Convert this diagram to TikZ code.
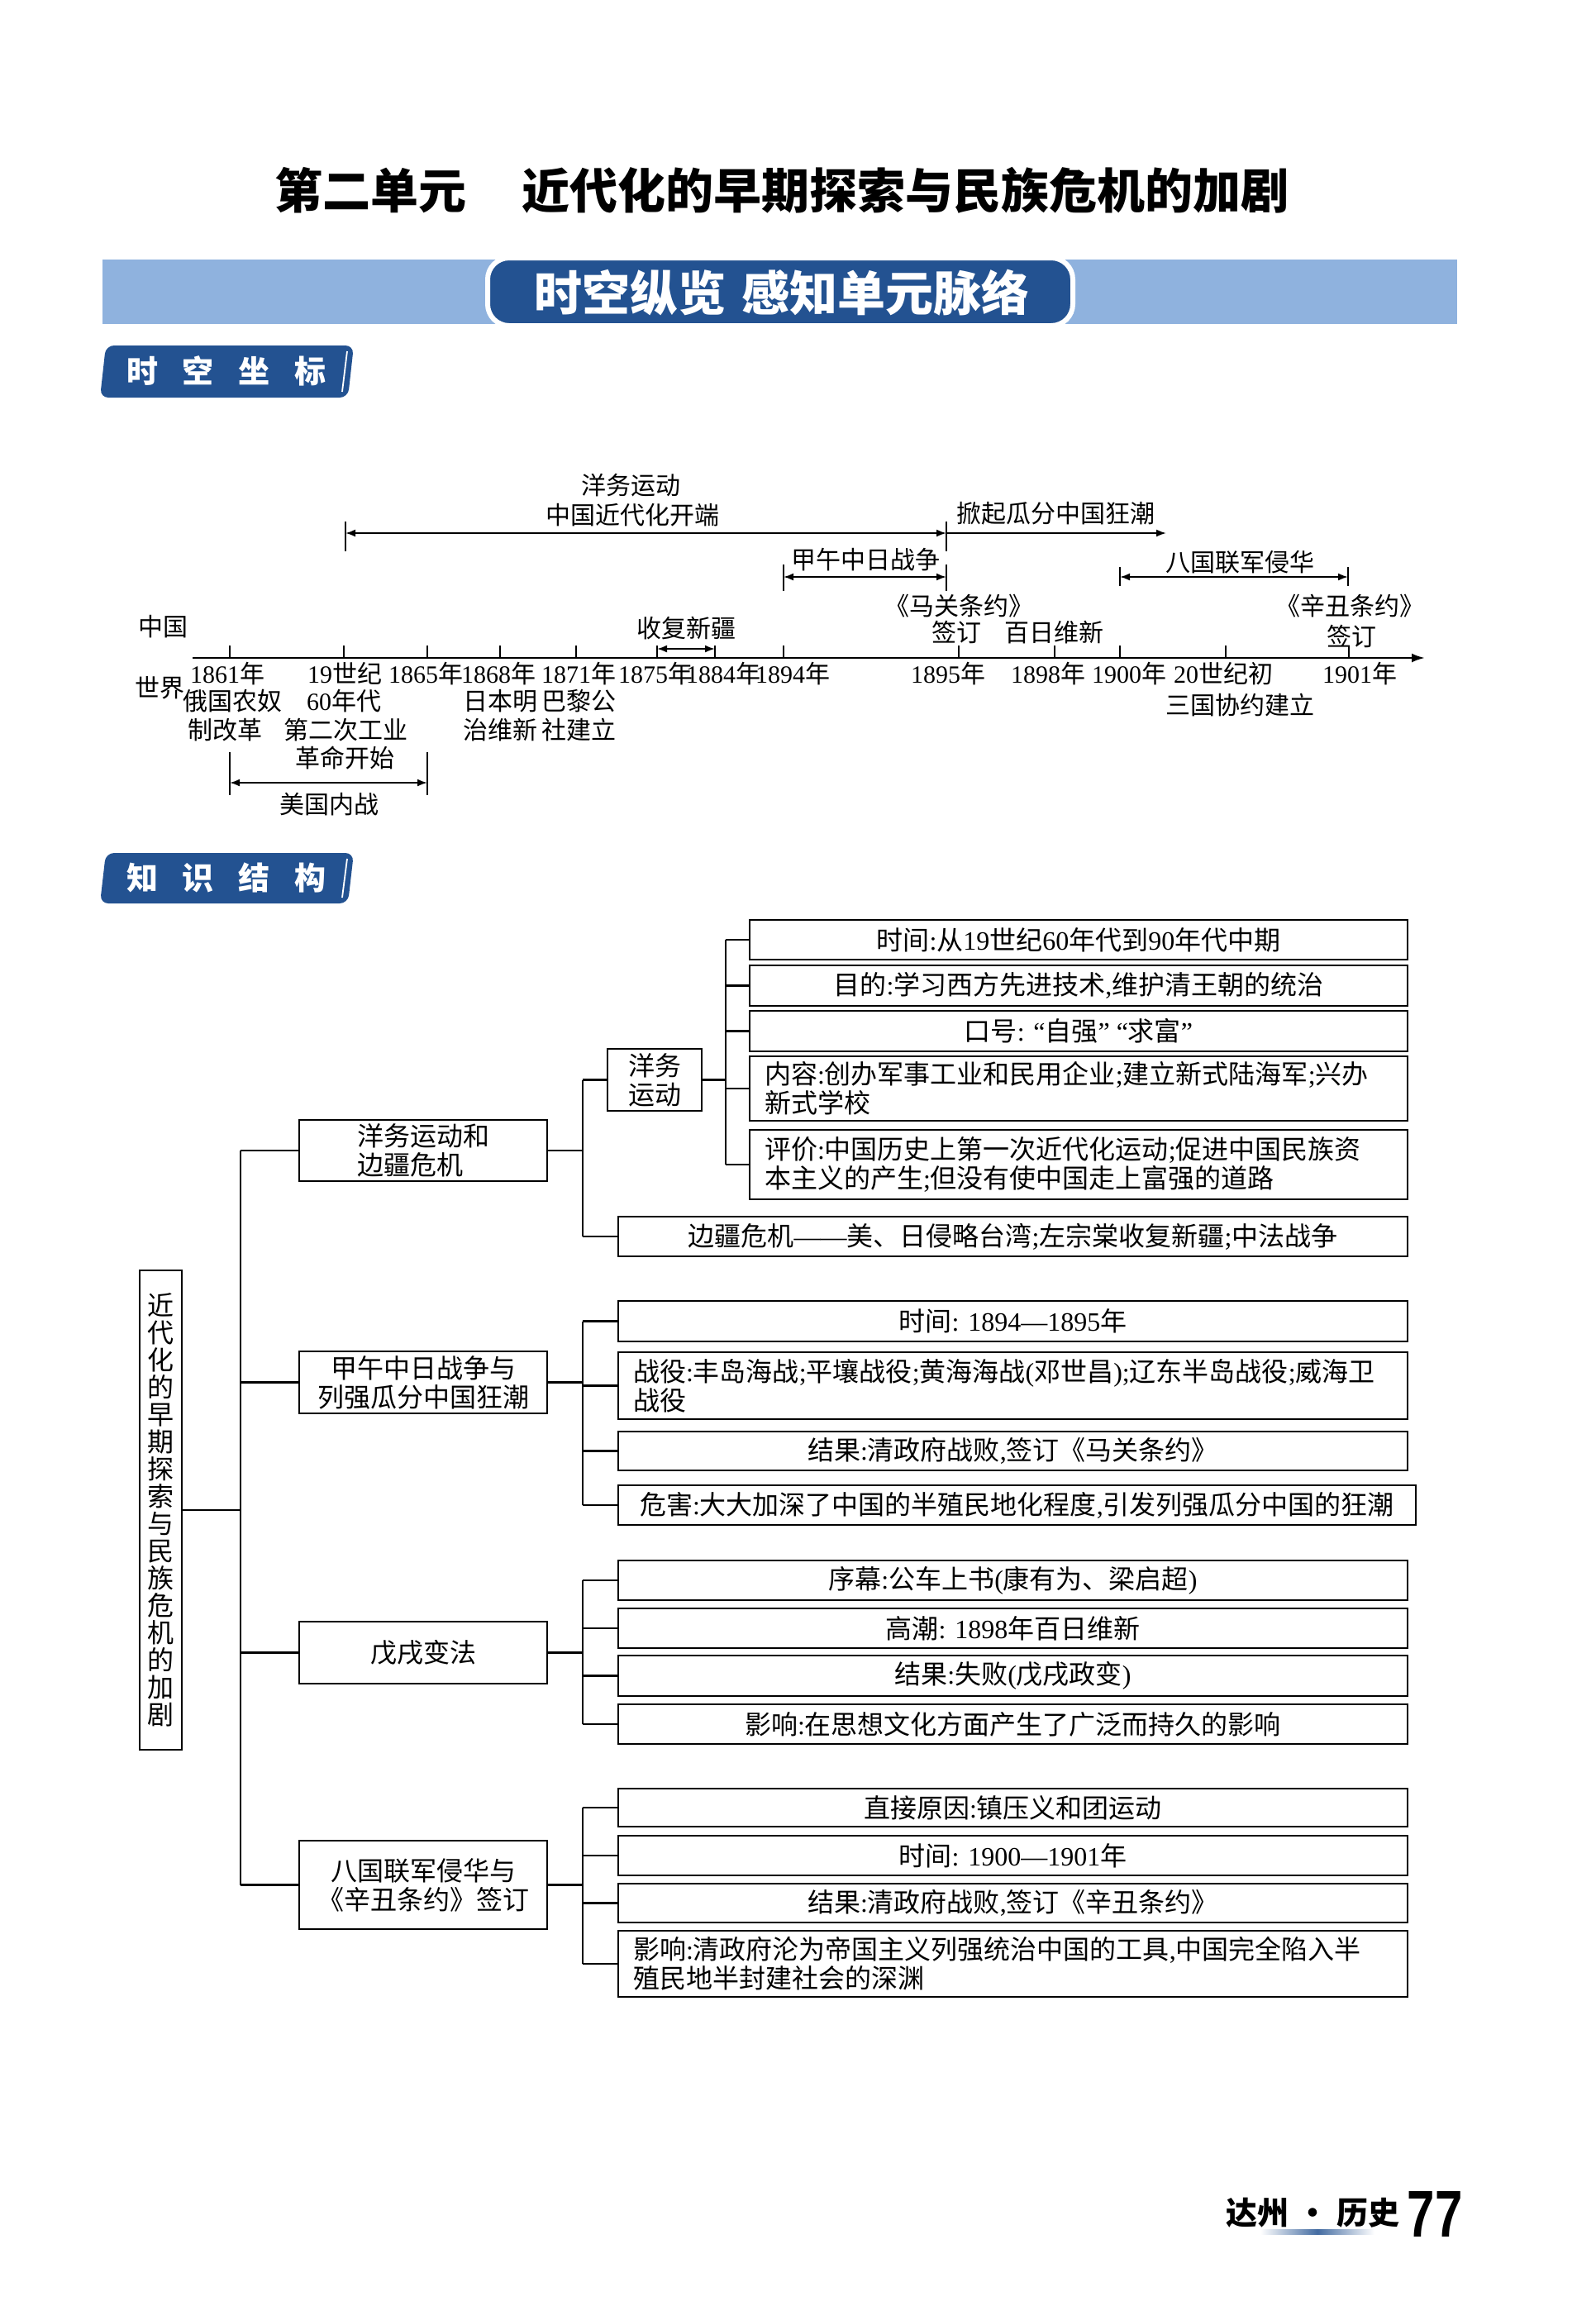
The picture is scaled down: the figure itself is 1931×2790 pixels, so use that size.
\documentclass[tikz,border=0pt]{standalone}
\usepackage{fontspec}
\usepackage{graphicx}
\setmainfont{Liberation Serif}
\newfontfamily\cjk{Noto Sans CJK SC}
\newfontfamily\lsans{Liberation Sans}
\usetikzlibrary{arrows.meta}
\XeTeXinterchartokenstate=1
\newXeTeXintercharclass\CJKcls
\newcount\cjkcnt
\def\setcjkrange#1#2{\cjkcnt=#1\relax\loop\XeTeXcharclass\cjkcnt=\CJKcls\relax\ifnum\cjkcnt<#2\relax\advance\cjkcnt by 1\relax\repeat}
\setcjkrange{"4E00}{"9FFF}
\setcjkrange{"3000}{"303F}
\setcjkrange{"FF00}{"FFEF}
\XeTeXcharclass"201C=0
\XeTeXcharclass"201D=0
\XeTeXcharclass"2018=0
\XeTeXcharclass"2019=0
\XeTeXcharclass"2014=0
\XeTeXcharclass"00B7=0
\XeTeXinterchartoks 0 \CJKcls = {\cjk}
\XeTeXinterchartoks 4095 \CJKcls = {\cjk}
\XeTeXinterchartoks \CJKcls 0 = {\rmfamily}
\definecolor{dblue}{RGB}{35,82,145}
\definecolor{lblue}{RGB}{143,178,222}
\newcommand\kfont{\fontsize{16}{17.5}\selectfont}
\newcommand\tfont{\fontsize{15}{17}\selectfont}
\tikzset{
  kbox/.style={draw, line width=1.3pt, inner sep=0pt, font=\kfont, align=center},
  conn/.style={line width=1.1pt},
  tl/.style={font=\tfont, inner sep=0pt},
  tickln/.style={line width=1pt},
  tarr/.style={line width=1pt},
  tabtext/.style={font=\fontsize{19}{21}\selectfont\bfseries, text=white, inner sep=0pt},
}
\newcommand\bx[7][]{\pgfmathsetmacro\bw{(#5-#3)*0.5}\pgfmathsetmacro\bh{(#6-#4)*0.5}%
  \node[kbox, minimum width=\bw pt, minimum height=\bh pt, #1] (#2) at ({(#3+#5)/2},{(#4+#6)/2}) {#7};}
\newcommand\bxl[6]{\pgfmathsetmacro\btw{(#4-#2)*0.5-18}%
  \bx[align=left, text width=\btw pt]{#1}{#2}{#3}{#4}{#5}{#6}}
\begin{document}
\begin{tikzpicture}[x=0.5pt,y=-0.5pt, >={Latex[length=6pt,width=4.5pt]}]
\path[use as bounding box, fill=white] (0,0) rectangle (1931,2790);

% ---------- title ----------
\node[font=\fontsize{29}{32}\selectfont\bfseries] (title) at (946,230) {第二单元\hspace{34pt}近代化的早期探索与民族危机的加剧};

% ---------- banner ----------
\fill[lblue] (124,314) rectangle (1763,392);
\path[fill=dblue, draw=white, line width=3pt, rounded corners=13pt] (590,312) rectangle (1298,394);
\node[font=\fontsize{29}{32}\selectfont\bfseries, text=white] (bantext) at (946,354) {时空纵览\hspace{10pt}感知单元脉络};

% ---------- tabs ----------
\fill[dblue, rounded corners=5pt] (128,418) -- (428,418) -- (421,481) -- (121,481) -- cycle;
\draw[white, line width=0.9pt] (420,425) -- (414,474);
\node[tabtext] (tab1) at (274,449) {时\hspace{15pt}空\hspace{15pt}坐\hspace{15pt}标};
\fill[dblue, rounded corners=5pt] (128,1032) -- (428,1032) -- (421,1093) -- (121,1093) -- cycle;
\draw[white, line width=0.9pt] (420,1039) -- (414,1086);
\node[tabtext] (tab2) at (274,1062) {知\hspace{15pt}识\hspace{15pt}结\hspace{15pt}构};

% ---------- timeline axis ----------
\coordinate (axL) at (233,796);
\coordinate (axR) at (1724,796);
\draw[line width=1.3pt, -{Latex[length=8pt,width=5.5pt]}] (axL) -- (axR);
\foreach \n/\x in {t1861/278, t60s/416, t1865/517, t1868/605, t1871/697, t1875/795, t1884/865, t1894/948, t1895/1160, t1898/1276, t1900/1355, t20c/1483, t1901/1632}{
  \coordinate (\n) at (\x,796);
  \draw[tickln] (\n) -- ++(0,-15);
}

% china side arrows
\coordinate (ywL) at (418,645);
\coordinate (ywR) at (1145,645);
\coordinate (gfR) at (1411,645);
\draw[tickln] (418,631) -- (418,667);
\draw[tickln] (1145,631) -- (1145,667);
\draw[tarr, <->] (ywL) -- (ywR);
\draw[tarr, ->] (ywR) -- (gfR);
\coordinate (jwL) at (948,698);
\coordinate (jwR) at (1145,698);
\draw[tickln] (948,683) -- (948,715);
\draw[tickln] (1145,683) -- (1145,715);
\draw[tarr, <->] (jwL) -- (jwR);
\coordinate (bgL) at (1355,698);
\coordinate (bgR) at (1631,698);
\draw[tickln] (1355,686) -- (1355,709);
\draw[tickln] (1631,686) -- (1631,709);
\draw[tarr, <->] (bgL) -- (bgR);
\coordinate (xjL) at (795,785);
\coordinate (xjR) at (865,785);
\draw[tarr, <->] (xjL) -- (xjR);
% world side arrow
\coordinate (mgL) at (278,947);
\coordinate (mgR) at (517,947);
\draw[tickln] (278,910) -- (278,962);
\draw[tickln] (517,910) -- (517,962);
\draw[tarr, <->] (mgL) -- (mgR);

% timeline labels
\node[tl] (zg) at (197,758) {中国};
\node[tl] (sj) at (193,832) {世界};
\node[tl] (lyw1) at (763,587) {洋务运动};
\node[tl] (lyw2) at (765,623) {中国近代化开端};
\node[tl] (lgf) at (1277,621) {掀起瓜分中国狂潮};
\node[tl] (ljw) at (1047,677) {甲午中日战争};
\node[tl] (lbg) at (1500,680) {八国联军侵华};
\node[tl] (lxj) at (830,760) {收复新疆};
\node[tl] (lmg1) at (1160,733) {《马关条约》};
\node[tl] (lmg2) at (1157,765) {签订};
\node[tl] (lbr) at (1275,765) {百日维新};
\node[tl] (lxc1) at (1633,733) {《辛丑条约》};
\node[tl] (lxc2) at (1635,770) {签订};

\node[tl] (y1861) at (275,815) {1861年};
\node[tl] (d1861a) at (281,848) {俄国农奴};
\node[tl] (d1861b) at (272,883) {制改革};
\node[tl] (y60s) at (417,815) {19世纪};
\node[tl] (d60a) at (416,848) {60年代};
\node[tl] (d60b) at (418,883) {第二次工业};
\node[tl] (d60c) at (417,917) {革命开始};
\node[tl] (y1865) at (515,815) {1865年};
\node[tl] (y1868) at (603,815) {1868年};
\node[tl] (d1868a) at (605,848) {日本明};
\node[tl] (d1868b) at (605,883) {治维新};
\node[tl] (y1871) at (700,815) {1871年};
\node[tl] (d1871a) at (700,848) {巴黎公};
\node[tl] (d1871b) at (700,883) {社建立};
\node[tl] (y1875) at (793,815) {1875年};
\node[tl] (y1884) at (875,815) {1884年};
\node[tl] (y1894) at (959,815) {1894年};
\node[tl] (y1895) at (1147,815) {1895年};
\node[tl] (y1898) at (1268,815) {1898年};
\node[tl] (y1900) at (1366,815) {1900年};
\node[tl] (y20c) at (1480,815) {20世纪初};
\node[tl] (d20c) at (1500,853) {三国协约建立};
\node[tl] (y1901) at (1645,815) {1901年};
\node[tl] (lmgnz) at (398,973) {美国内战};

% ---------- knowledge structure ----------
\node[kbox, minimum width=25.5pt, minimum height=290pt, font=\fontsize{16}{16.5}\selectfont] (root) at (194.5,1827)
  {近\\代\\化\\的\\早\\期\\探\\索\\与\\民\\族\\危\\机\\的\\加\\剧};

\bx[align=left]{b1}{362}{1355}{662}{1429}{洋务运动和\\边疆危机}
\bx{yw}{735}{1269}{849}{1344}{洋务\\运动}
\bx{a1}{907}{1113}{1703}{1161}{时间:从19世纪60年代到90年代中期}
\bx{a2}{907}{1168}{1703}{1217}{目的:学习西方先进技术,维护清王朝的统治}
\bx{a3}{907}{1223}{1703}{1272}{口号: “自强” “求富”}
\bxl{a4}{907}{1278}{1703}{1356}{内容:创办军事工业和民用企业;建立新式陆海军;兴办\\新式学校}
\bxl{a5}{907}{1367}{1703}{1451}{评价:中国历史上第一次近代化运动;促进中国民族资\\本主义的产生;但没有使中国走上富强的道路}
\bx{bj}{748}{1472}{1703}{1520}{边疆危机——美、日侵略台湾;左宗棠收复新疆;中法战争}

\bx{b2}{362}{1635}{662}{1710}{甲午中日战争与\\列强瓜分中国狂潮}
\bx{c1}{748}{1574}{1703}{1623}{时间: 1894—1895年}
\bxl{c2}{748}{1636}{1703}{1717}{战役:丰岛海战;平壤战役;黄海海战(邓世昌);辽东半岛战役;威海卫\\战役}
\bx{c3}{748}{1732}{1703}{1779}{结果:清政府战败,签订《马关条约》}
\bx{c4}{748}{1797}{1713}{1845}{危害:大大加深了中国的半殖民地化程度,引发列强瓜分中国的狂潮}

\bx{b3}{362}{1962}{662}{2037}{戊戌变法}
\bx{d1}{748}{1888}{1703}{1936}{序幕:公车上书(康有为、梁启超)}
\bx{d2}{748}{1946}{1703}{1994}{高潮: 1898年百日维新}
\bx{d3}{748}{2003}{1703}{2052}{结果:失败(戊戌政变)}
\bx{d4}{748}{2062}{1703}{2110}{影响:在思想文化方面产生了广泛而持久的影响}

\bx{b4}{362}{2227}{662}{2334}{八国联军侵华与\\《辛丑条约》签订}
\bx{e1}{748}{2164}{1703}{2210}{直接原因:镇压义和团运动}
\bx{e2}{748}{2221}{1703}{2269}{时间: 1900—1901年}
\bx{e3}{748}{2279}{1703}{2326}{结果:清政府战败,签订《辛丑条约》}
\bxl{e4}{748}{2336}{1703}{2416}{影响:清政府沦为帝国主义列强统治中国的工具,中国完全陷入半\\殖民地半封建社会的深渊}

% connectors
\coordinate (mv) at (291,0);
\coordinate (v2) at (705,0);
\coordinate (v1b) at (878,0);
\draw[conn] (root.east) -- (root.east -| mv);
\draw[conn] (b1.west -| mv) -- (b4.west -| mv);
\foreach \b in {b1,b2,b3,b4}{\draw[conn] (\b.west -| mv) -- (\b.west);}
% branch 1
\draw[conn] (b1.east) -- (b1.east -| v2);
\draw[conn] (yw.west -| v2) -- (bj.west -| v2);
\foreach \c in {yw,bj}{\draw[conn] (\c.west -| v2) -- (\c.west);}
\draw[conn] (yw.east) -- (yw.east -| v1b);
\draw[conn] (a1.west -| v1b) -- (a5.west -| v1b);
\foreach \c in {a1,a2,a3,a4,a5}{\draw[conn] (\c.west -| v1b) -- (\c.west);}
% branch 2
\draw[conn] (b2.east) -- (b2.east -| v2);
\draw[conn] (c1.west -| v2) -- (c4.west -| v2);
\foreach \c in {c1,c2,c3,c4}{\draw[conn] (\c.west -| v2) -- (\c.west);}
% branch 3
\draw[conn] (b3.east) -- (b3.east -| v2);
\draw[conn] (d1.west -| v2) -- (d4.west -| v2);
\foreach \c in {d1,d2,d3,d4}{\draw[conn] (\c.west -| v2) -- (\c.west);}
% branch 4
\draw[conn] (b4.east) -- (b4.east -| v2);
\draw[conn] (e1.west -| v2) -- (e4.west -| v2);
\foreach \c in {e1,e2,e3,e4}{\draw[conn] (\c.west -| v2) -- (\c.west);}

% ---------- footer ----------
\node[font=\fontsize{19}{21}\selectfont\bfseries] (foot) at (1588,2677) {达州\hspace{5pt}·\hspace{5pt}历史};
\shade[left color=white, right color=white, middle color=dblue!85] (1525,2697) rectangle (1663,2703);
\node[font=\lsans\bfseries\fontsize{40}{40}\selectfont] (pageno) at (1736,2679) {\scalebox{0.75}[1]{77}};
\end{tikzpicture}
\end{document}
